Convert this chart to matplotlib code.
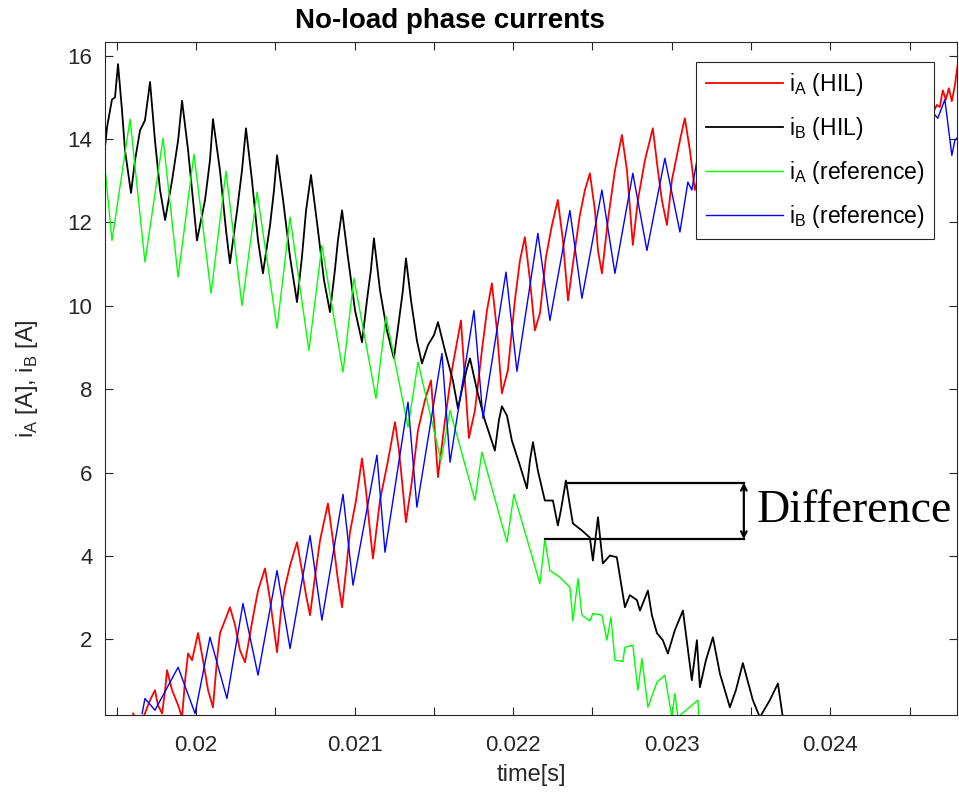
import numpy as np
import matplotlib
matplotlib.use("Agg")
import matplotlib.pyplot as plt
from matplotlib.ticker import MultipleLocator

plt.rcParams['font.family'] = ['Liberation Sans', 'DejaVu Sans']
plt.rcParams['mathtext.fontset'] = 'custom'
plt.rcParams['mathtext.rm'] = 'Liberation Sans'

# values (time in ms, current in A)
ia_hil_t = [19.603, 19.647, 19.710, 19.741, 19.760, 19.786, 19.805, 19.817, 19.849, 19.887,
            19.912, 19.931, 19.950, 19.975, 20.013, 20.044, 20.076, 20.107, 20.132, 20.151,
            20.183, 20.214, 20.246, 20.277, 20.309, 20.334, 20.359, 20.391, 20.435, 20.467,
            20.492, 20.511, 20.536, 20.561, 20.593, 20.637, 20.668, 20.694, 20.719, 20.750,
            20.782, 20.832, 20.864, 20.895, 20.921, 20.946, 20.971, 21.009, 21.047, 21.072,
            21.097, 21.116, 21.160, 21.211, 21.255, 21.280, 21.305, 21.324, 21.362, 21.400,
            21.444, 21.482, 21.501, 21.526, 21.570, 21.614, 21.671, 21.696, 21.721, 21.759,
            21.803, 21.835, 21.866, 21.898, 21.929, 21.967, 22.011, 22.043, 22.074, 22.106,
            22.137, 22.169, 22.207, 22.245, 22.282, 22.314, 22.346, 22.383, 22.421, 22.453,
            22.484, 22.516, 22.535, 22.560, 22.598, 22.642, 22.686, 22.718, 22.755, 22.787,
            22.831, 22.881, 22.913, 22.938, 22.970, 23.001, 23.052, 23.083, 23.115, 23.146,
            23.178, 23.285, 23.386, 23.493, 23.588, 23.682, 23.789, 23.884, 23.985, 24.092,
            24.187, 24.288, 24.388, 24.489, 24.584, 24.672, 24.691, 24.710, 24.729, 24.748,
            24.767, 24.786, 24.805]
ia_hil = [0.22, -0.07, 0.54, 0.78, 0.42, 0.22, 0.78, 1.26, 0.78, 0.42,
          0.13, 1.02, 1.66, 1.50, 2.15, 1.50, 0.78, 0.37, 1.50, 2.15,
          2.46, 2.77, 2.34, 1.74, 1.45, 1.98, 2.53, 3.17, 3.70, 2.94,
          2.22, 1.69, 2.69, 3.25, 3.77, 4.33, 3.65, 3.06, 2.58, 3.49,
          4.37, 5.26, 4.37, 3.42, 2.77, 3.65, 4.57, 5.33, 6.34, 5.57,
          4.61, 3.94, 5.33, 6.29, 7.21, 6.53, 5.57, 4.81, 5.81, 7.02,
          7.74, 8.21, 7.25, 5.89, 7.25, 8.46, 9.65, 8.21, 6.83, 7.49,
          8.93, 9.89, 10.54, 9.41, 7.90, 8.46, 10.13, 11.09, 11.65, 10.62,
          9.41, 9.82, 11.17, 11.94, 12.54, 11.57, 10.13, 11.17, 12.18, 12.78,
          13.18, 12.29, 11.33, 10.78, 12.06, 13.25, 14.10, 13.25, 11.46, 12.54,
          13.49, 14.26, 13.25, 12.54, 11.94, 13.01, 13.97, 14.50, 13.73, 12.78,
          13.25, 14.57, 13.14, 14.82, 13.38, 15.00, 13.49, 15.13, 13.68, 15.22,
          13.78, 15.29, 13.97, 15.37, 14.10, 14.82, 14.77, 15.17, 14.95, 15.22,
          14.91, 15.29, 15.82]

ib_hil_t = [19.426, 19.439, 19.470, 19.489, 19.508, 19.533, 19.552, 19.590, 19.615, 19.647,
            19.678, 19.710, 19.741, 19.773, 19.805, 19.849, 19.887, 19.912, 19.950, 19.981,
            20.006, 20.057, 20.088, 20.107, 20.151, 20.189, 20.214, 20.259, 20.290, 20.315,
            20.353, 20.391, 20.422, 20.467, 20.492, 20.511, 20.549, 20.593, 20.637, 20.668,
            20.694, 20.725, 20.769, 20.807, 20.845, 20.876, 20.895, 20.921, 20.958, 21.003,
            21.047, 21.078, 21.103, 21.122, 21.160, 21.204, 21.248, 21.280, 21.305, 21.324,
            21.356, 21.393, 21.425, 21.463, 21.501, 21.526, 21.570, 21.620, 21.652, 21.683,
            21.709, 21.728, 21.772, 21.822, 21.885, 21.910, 21.929, 21.961, 21.992, 22.043,
            22.087, 22.106, 22.125, 22.156, 22.200, 22.251, 22.282, 22.301, 22.333, 22.358,
            22.377, 22.434, 22.484, 22.503, 22.535, 22.566, 22.610, 22.654, 22.705, 22.736,
            22.781, 22.800, 22.850, 22.875, 22.907, 22.944, 22.976, 23.020, 23.071, 23.127,
            23.159, 23.178, 23.216, 23.260, 23.304, 23.367, 23.405, 23.449, 23.512, 23.556,
            23.619, 23.670, 23.701, 23.745]
ib_hil = [13.81, 14.29, 14.95, 15.00, 15.80, 14.70, 13.73, 12.71, 13.49, 14.21,
          14.45, 15.37, 13.97, 12.78, 12.06, 13.01, 13.97, 14.92, 13.73, 12.54,
          11.57, 12.54, 13.49, 14.48, 13.25, 11.82, 11.02, 12.29, 13.25, 14.26,
          13.01, 11.57, 10.78, 11.94, 12.78, 13.61, 12.54, 11.17, 10.09, 11.17,
          12.29, 13.14, 11.82, 10.62, 9.85, 10.86, 11.57, 12.29, 11.17, 9.89,
          9.13, 10.13, 10.86, 11.62, 10.38, 9.41, 8.74, 9.65, 10.38, 11.14,
          10.13, 9.17, 8.62, 9.06, 9.30, 9.61, 8.93, 8.21, 7.54, 8.09,
          8.50, 8.74, 7.98, 7.25, 6.53, 7.25, 7.59, 7.37, 6.77, 6.17,
          5.62, 6.29, 6.73, 6.05, 5.33, 5.33, 4.73, 5.09, 5.81, 5.21,
          4.78, 4.61, 4.44, 3.89, 4.93, 3.82, 4.01, 3.97, 2.77, 3.06,
          2.94, 2.69, 3.17, 2.58, 2.15, 1.98, 1.66, 2.22, 2.69, 1.02,
          1.98, 0.85, 1.50, 2.05, 1.18, 0.37, 0.78, 1.43, 0.54, 0.13,
          0.54, 0.94, 0.13, -0.42]

ia_ref_t = [19.426, 19.470, 19.584, 19.678, 19.792, 19.887, 19.987, 20.095, 20.189, 20.290,
            20.385, 20.511, 20.593, 20.712, 20.794, 20.927, 20.996, 21.135, 21.198, 21.337,
            21.400, 21.545, 21.602, 21.759, 21.803, 21.961, 22.005, 22.169, 22.200, 22.232,
            22.295, 22.358, 22.377, 22.409, 22.434, 22.484, 22.503, 22.560, 22.591, 22.617,
            22.642, 22.692, 22.705, 22.755, 22.787, 22.812, 22.850, 22.907, 22.957, 23.001,
            23.020, 23.039, 23.127, 23.165, 23.178]
ia_ref = [13.30, 11.57, 14.48, 11.05, 14.02, 10.69, 13.64, 10.30, 13.23, 10.01,
          12.73, 9.46, 12.13, 8.93, 11.45, 8.41, 10.66, 7.78, 9.75, 7.09,
          8.65, 6.29, 7.49, 5.33, 6.49, 4.33, 5.48, 3.34, 4.40, 3.65,
          3.49, 3.25, 2.44, 3.46, 2.58, 2.44, 2.62, 2.58, 1.98, 2.53,
          1.50, 1.47, 1.81, 1.86, 0.78, 1.54, 0.37, 0.97, 1.14, 0.13,
          0.70, 0.13, 0.42, 0.54, -0.20]

ib_ref_t = [19.660, 19.678, 19.741, 19.887, 19.994, 20.088, 20.195, 20.296, 20.391, 20.511,
            20.593, 20.719, 20.794, 20.927, 20.990, 21.141, 21.192, 21.337, 21.393, 21.551,
            21.602, 21.753, 21.810, 21.955, 22.024, 22.156, 22.232, 22.358, 22.434, 22.560,
            22.642, 22.755, 22.844, 22.957, 23.052, 23.102, 23.127, 23.159, 23.253, 23.354,
            23.461, 23.556, 23.663, 23.758, 23.859, 23.966, 24.061, 24.168, 24.262, 24.376,
            24.470, 24.578, 24.678, 24.723, 24.767, 24.786, 24.805]
ib_ref = [0.22, 0.58, 0.30, 1.33, 0.22, 2.05, 0.58, 2.86, 1.14, 3.65,
          1.78, 4.49, 2.46, 5.48, 3.30, 6.42, 4.09, 7.69, 5.17, 8.86,
          6.25, 9.89, 7.30, 10.81, 8.43, 11.74, 9.65, 12.29, 10.18, 12.78,
          10.78, 13.18, 11.33, 13.54, 11.77, 12.97, 12.78, 13.49, 12.18, 13.97,
          12.54, 14.21, 12.78, 14.40, 13.01, 14.57, 13.25, 14.70, 13.49, 14.82,
          13.73, 14.95, 14.50, 14.95, 13.61, 13.97, 14.05]

labels = [r"i$_\mathregular{A}$ (HIL)", r"i$_\mathregular{B}$ (HIL)",
          r"i$_\mathregular{A}$ (reference)", r"i$_\mathregular{B}$ (reference)"]
xtick_vals = [0.020, 0.021, 0.022, 0.023, 0.024]
xtick_labels = ["0.02", "0.021", "0.022", "0.023", "0.024"]
ytick_vals = [2, 4, 6, 8, 10, 12, 14, 16]

# "Difference" bracket levels
diff_hi, diff_lo = 5.76, 4.40
diff_hi_start, diff_lo_start, diff_end = 0.022333, 0.022200, 0.023455

ms = 1e-3
fig = plt.figure(figsize=(9.59, 8), dpi=100)
ax = fig.add_axes([0.1095, 0.106, 0.8885, 0.8415])

ax.plot(np.array(ia_hil_t) * ms, ia_hil, color="red", lw=1.3, label=labels[0])
ax.plot(np.array(ib_hil_t) * ms, ib_hil, color="black", lw=1.3, label=labels[1])
ax.plot(np.array(ia_ref_t) * ms, ia_ref, color="#00ff00", lw=1.0, label=labels[2])
ax.plot(np.array(ib_ref_t) * ms, ib_ref, color="blue", lw=1.0, label=labels[3])

ax.set_xlim(0.019426, 0.0248)
ax.set_ylim(0.18, 16.33)

ax.set_xticks(xtick_vals)
ax.set_xticklabels(xtick_labels)
ax.xaxis.set_minor_locator(MultipleLocator(0.0005))
ax.set_yticks(ytick_vals)
ax.tick_params(which="both", direction="in", top=True, right=True, length=6,
               width=0.8, colors="#262626", labelsize=16)
ax.tick_params(axis="x", pad=14)
ax.tick_params(axis="y", pad=9)
for s in ax.spines.values():
    s.set_color("#262626")
    s.set_linewidth(0.8)

ax.set_title("No-load phase currents", fontsize=20, fontweight="bold", pad=10, x=0.405)
ax.set_xlabel("time[s]", fontsize=17, color="#262626", labelpad=6)
ax.set_ylabel(r"i$_\mathregular{A}$ [A], i$_\mathregular{B}$ [A]", fontsize=17,
              color="#262626", labelpad=20)

leg = ax.legend(loc="upper left", bbox_to_anchor=(0.694, 0.970), borderaxespad=0,
                fontsize=16.5, fancybox=False, framealpha=1, edgecolor="#262626",
                handlelength=3.4, handletextpad=0.25, labelspacing=0.74, borderpad=0.4)
leg.get_frame().set_linewidth(0.8)

# annotation
ax.plot([diff_hi_start, diff_end], [diff_hi, diff_hi], color="black", lw=1.6)
ax.plot([diff_lo_start, diff_end], [diff_lo, diff_lo], color="black", lw=1.6)
ax.annotate("", xy=(diff_end, diff_hi), xytext=(diff_end, diff_lo),
            arrowprops=dict(arrowstyle="<->", color="black", lw=1.6, shrinkA=0, shrinkB=0))
ax.text(diff_end + 0.00008, (diff_hi + diff_lo) / 2, "Difference", fontsize=33,
        family="Liberation Serif", va="center", ha="left")

fig.savefig("out.png", dpi=100)
